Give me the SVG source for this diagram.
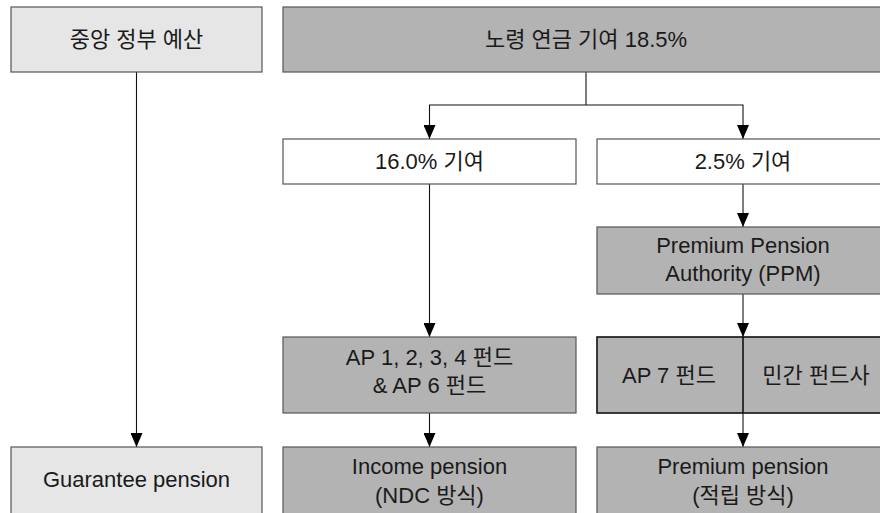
<svg xmlns="http://www.w3.org/2000/svg" width="880" height="513" viewBox="0 0 880 513">
  <defs>
    <marker id="arrow" viewBox="0 0 14 12" refX="14" refY="6" markerWidth="14" markerHeight="12" markerUnits="userSpaceOnUse" orient="auto-start-reverse">
      <path d="M0,0 L14,6 L0,12 Z" fill="#000"/>
    </marker>
  </defs>
  <style>
    .box { stroke: #555; stroke-width: 1.2; }
    .light { fill: #e6e6e6; }
    .mid { fill: #b3b3b3; }
    .white { fill: #fff; }
    .strong { stroke: #111; stroke-width: 1.6; }
    .lbl { font-family: "Liberation Sans", "Noto Sans CJK KR", sans-serif; font-size: 22px; fill: #1a1a1a; text-anchor: middle; }
    .wire { fill: none; stroke: #111; stroke-width: 1.1; }
  </style>
  <rect width="880" height="513" fill="#fff"/>

  <!-- connectors -->
  <g id="connectors">
    <line class="wire" x1="136.5" y1="72" x2="136.5" y2="447" marker-end="url(#arrow)"/>
    <polyline class="wire" points="586,72 586,105"/>
    <polyline class="wire" points="429.5,139 429.5,105 743,105 743,139" marker-start="url(#arrow)" marker-end="url(#arrow)"/>
    <line class="wire" x1="429.5" y1="184" x2="429.5" y2="337" marker-end="url(#arrow)"/>
    <line class="wire" x1="743" y1="184" x2="743" y2="227" marker-end="url(#arrow)"/>
    <line class="wire" x1="743" y1="294" x2="743" y2="337" marker-end="url(#arrow)"/>
    <line class="wire" x1="429.5" y1="413" x2="429.5" y2="447" marker-end="url(#arrow)"/>
    <line class="wire" x1="743" y1="413" x2="743" y2="447" marker-end="url(#arrow)"/>
  </g>

  <g id="budget">
    <rect class="box light" x="11" y="7" width="251" height="65"/>
    <text class="lbl" x="136.5" y="47">중앙 정부 예산</text>
  </g>

  <g id="contribution">
    <rect class="box mid" x="283" y="7" width="606" height="65"/>
    <text class="lbl" x="586" y="47">노령 연금 기여 18.5%</text>
  </g>

  <g id="share-16">
    <rect class="box white" x="283" y="139" width="293" height="45"/>
    <text class="lbl" x="429.5" y="169">16.0% 기여</text>
  </g>

  <g id="share-2-5">
    <rect class="box white" x="597" y="139" width="292" height="45"/>
    <text class="lbl" x="743" y="169">2.5% 기여</text>
  </g>

  <g id="ppm">
    <rect class="box mid" x="597" y="227" width="292" height="67"/>
    <text class="lbl" x="743" y="253">Premium Pension</text>
    <text class="lbl" x="743" y="281">Authority (PPM)</text>
  </g>

  <g id="ap-funds">
    <rect class="box mid" x="283" y="337" width="293" height="76"/>
    <text class="lbl" x="429.5" y="365">AP 1, 2, 3, 4 펀드</text>
    <text class="lbl" x="429.5" y="393">&amp; AP 6 펀드</text>
  </g>

  <g id="premium-funds">
    <rect class="mid strong" x="597" y="337" width="292" height="76"/>
    <line class="strong" x1="743" y1="337" x2="743" y2="413"/>
    <text class="lbl" x="669" y="383">AP 7 펀드</text>
    <text class="lbl" x="816" y="383">민간 펀드사</text>
  </g>

  <g id="guarantee">
    <rect class="box light" x="11" y="447" width="251" height="80"/>
    <text class="lbl" x="136.5" y="487">Guarantee pension</text>
  </g>

  <g id="income">
    <rect class="box mid" x="283" y="447" width="293" height="80"/>
    <text class="lbl" x="429.5" y="474">Income pension</text>
    <text class="lbl" x="429.5" y="503">(NDC 방식)</text>
  </g>

  <g id="premium">
    <rect class="box mid" x="597" y="447" width="292" height="80"/>
    <text class="lbl" x="743" y="474">Premium pension</text>
    <text class="lbl" x="743" y="503">(적립 방식)</text>
  </g>
</svg>
